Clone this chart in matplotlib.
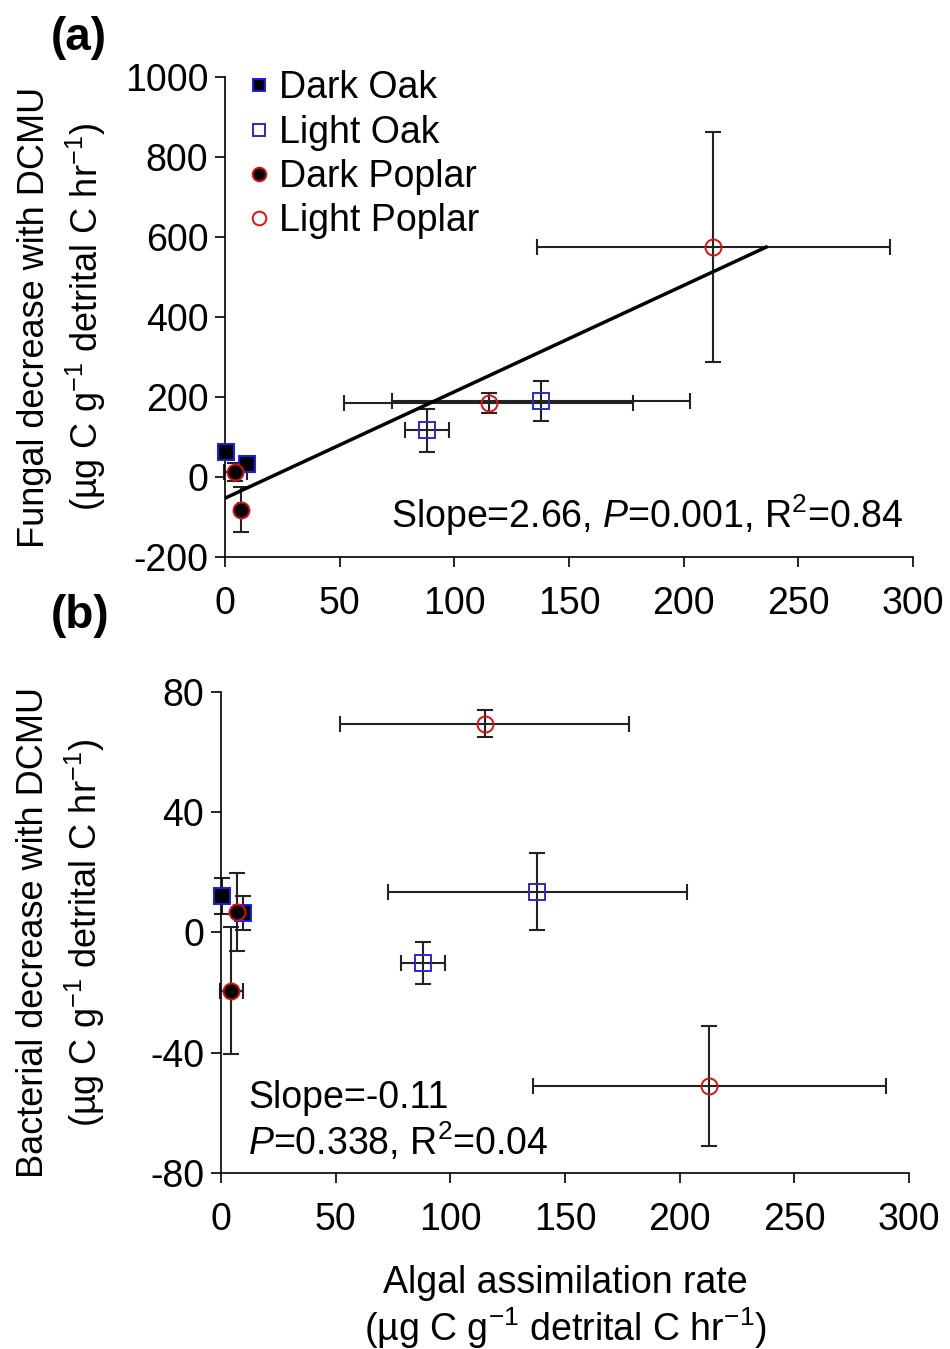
import numpy as np
import matplotlib.pyplot as plt

plt.rcParams['font.family'] = ['Liberation Sans', 'DejaVu Sans']
plt.rcParams['mathtext.fontset'] = 'custom'
plt.rcParams['mathtext.rm'] = 'Liberation Sans'
plt.rcParams['mathtext.it'] = 'Liberation Sans:italic'
plt.rcParams['axes.unicode_minus'] = False

# Algal assimilation rate (same x for both panels)
dark_oak_x = [0.5, 9.5]
dark_oak_xerr = [0.5, 3]
light_oak_x = [88, 138]
light_oak_xerr = [9.5, 65]
dark_poplar_x = [4.5, 7]
dark_poplar_xerr = [5, 1.5]
light_poplar_x = [115, 213]
light_poplar_xerr = [63, 77]

# (a) fungal decrease
fung_dark_oak = [62, 32]
fung_dark_oak_err = [6, 20]
fung_light_oak = [117, 190]
fung_light_oak_err = [54, 51]
fung_dark_poplar = [12, -82]
fung_dark_poplar_err = [22, 56]
fung_light_poplar = [185, 575]
fung_light_poplar_err = [25, 288]

# (b) bacterial decrease
bact_dark_oak = [12, 6.5]
bact_dark_oak_err = [6, 5.7]
bact_light_oak = [-10, 13.6]
bact_light_oak_err = [7, 12.8]
bact_dark_poplar = [-19.3, 6.7]
bact_dark_poplar_err = [21, 13]
bact_light_poplar = [69.5, -51]
bact_light_poplar_err = [4.5, 20]

# regression line in (a)
fit_x = np.array([0, 236])
fit_slope = 2.66
fit_intercept = -53

units = '(µg C g$^{-1}$ detrital C hr$^{-1}$)'

fig = plt.figure(figsize=(9.5, 13.49), dpi=100)
ax1 = fig.add_axes([0.2368, 0.5871, 0.7242, 0.3558])
ax2 = fig.add_axes([0.2326, 0.1305, 0.7242, 0.3565])

groups = [
    ('Dark Oak', 's', 'black', '#1a1aff'),
    ('Light Oak', 's', 'none', '#2a2acc'),
    ('Dark Poplar', 'o', 'black', '#e01010'),
    ('Light Poplar', 'o', 'none', '#e01010'),
]


def draw_panel(ax, ys, errs):
    xs = [dark_oak_x, light_oak_x, dark_poplar_x, light_poplar_x]
    xerrs = [dark_oak_xerr, light_oak_xerr, dark_poplar_xerr, light_poplar_xerr]
    for (name, mk, fc, ec), x, xe, y, ye in zip(groups, xs, xerrs, ys, errs):
        eb = ax.errorbar(x, y, xerr=xe, yerr=ye, fmt='none', ecolor='#222222',
                         elinewidth=1.5, capsize=6, capthick=1.5, zorder=2)
        for art in eb.lines[1] + eb.lines[2]:
            art.set_clip_on(False)
        ax.plot(x, y, linestyle='none', marker=mk, markersize=11 if mk == 's' else 11.5,
                markerfacecolor=fc, markeredgecolor=ec, markeredgewidth=1.4,
                label=name, zorder=3, clip_on=False)
    for s in ['top', 'right']:
        ax.spines[s].set_visible(False)
    for s in ['left', 'bottom']:
        ax.spines[s].set_linewidth(1.2)
    ax.tick_params(direction='out', length=7, width=1.2, labelsize=27)
    ax.tick_params(axis='x', pad=14)
    ax.tick_params(axis='y', pad=5)
    ax.set_xlim(0, 300)
    ax.set_xticks(np.arange(0, 301, 50))


draw_panel(ax1,
           [fung_dark_oak, fung_light_oak, fung_dark_poplar, fung_light_poplar],
           [fung_dark_oak_err, fung_light_oak_err, fung_dark_poplar_err, fung_light_poplar_err])
ax1.plot(fit_x, fit_slope * fit_x + fit_intercept, color='black', lw=2.5, zorder=2.5)
ax1.set_ylim(-200, 1000)
ax1.set_yticks(np.arange(-200, 1001, 200))
ax1.set_ylabel('Fungal decrease with DCMU\n' + units, fontsize=26, linespacing=1.35)
ax1.yaxis.set_label_coords(-0.17, 0.5)
ax1.legend(loc='upper left', bbox_to_anchor=(0.0, 1.045), frameon=False, fontsize=27,
           handletextpad=0.05, handlelength=1.0, labelspacing=0.22, borderaxespad=0,
           markerscale=0.85)
ax1.text(0.985, 0.088, 'Slope=2.66, $P$=0.001, R$^2$=0.84', transform=ax1.transAxes,
         ha='right', va='center', fontsize=27)
fig.text(0.053, 0.972, '(a)', fontsize=33, fontweight='bold', va='center')

draw_panel(ax2,
           [bact_dark_oak, bact_light_oak, bact_dark_poplar, bact_light_poplar],
           [bact_dark_oak_err, bact_light_oak_err, bact_dark_poplar_err, bact_light_poplar_err])
ax2.set_ylim(-80, 80)
ax2.set_yticks(np.arange(-80, 81, 40))
ax2.set_ylabel('Bacterial decrease with DCMU\n' + units, fontsize=26, linespacing=1.35)
ax2.yaxis.set_label_coords(-0.165, 0.5)
ax2.set_xlabel('Algal assimilation rate\n' + units, fontsize=27, linespacing=1.15, labelpad=19)
ax2.text(0.04, 0.155, 'Slope=-0.11', transform=ax2.transAxes, ha='left', va='center', fontsize=27)
ax2.text(0.04, 0.065, '$P$=0.338, R$^2$=0.04', transform=ax2.transAxes, ha='left', va='center', fontsize=27)
fig.text(0.053, 0.543, '(b)', fontsize=33, fontweight='bold', va='center')

fig.savefig('out.png', dpi=100)
